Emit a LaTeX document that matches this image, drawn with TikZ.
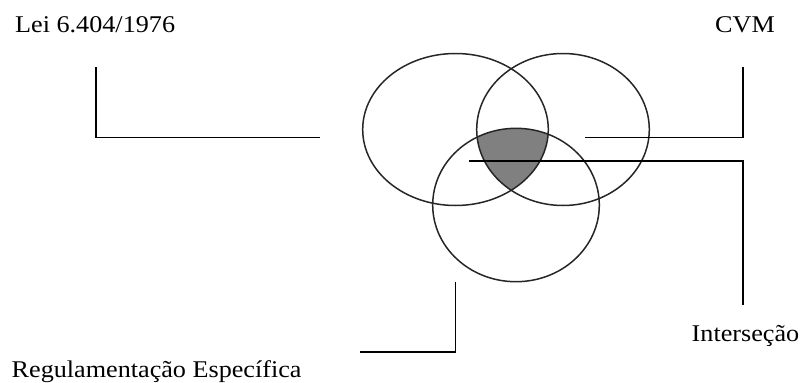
\documentclass[tikz,border=0pt]{standalone}
\usepackage{fontspec}
\setmainfont{Liberation Serif}
\begin{document}
\begin{tikzpicture}[x=1pt,y=-1pt,
  label/.style={anchor=base west,inner sep=0pt,font=\fontsize{24}{28}\selectfont,xscale=1.09},
  setline/.style={line width=1.5pt,draw=black!85},
  conn/.style={line width=1.5pt,draw=black}]
\useasboundingbox (0,0) rectangle (801,383);
% shaded intersection
\begin{scope}
  \clip (455.5,129.5) ellipse [x radius=92.8,y radius=76];
  \clip (563,129.5) ellipse [x radius=86.3,y radius=76];
  \fill[fill=black!50] (516,205) ellipse [x radius=83.3,y radius=76.7];
\end{scope}
% sets
\draw[setline] (455.5,129.5) ellipse [x radius=92.8,y radius=76];
\draw[setline] (563,129.5) ellipse [x radius=86.3,y radius=76];
\draw[setline] (516,205) ellipse [x radius=83.3,y radius=76.7];
% labels
\node[label] (lei) at (15,32.3) {Lei 6.404/1976};
\node[label] (cvm) at (715,32.3) {CVM};
\node[label] (inter) at (691.5,341) {Interseção};
\node[label] (reg) at (11.5,377.7) {Regulamentação Específica};
% connector points
\coordinate (leiA) at (96,67);
\coordinate (leiB) at (96,137.5);
\coordinate (leiC) at (320,137.5);
\coordinate (cvmA) at (743,67);
\coordinate (cvmB) at (743,137.5);
\coordinate (cvmC) at (585,137.5);
\coordinate (intA) at (469,161);
\coordinate (intB) at (743,161);
\coordinate (intC) at (743,305);
\coordinate (regA) at (455.7,281.7);
\coordinate (regB) at (455.7,352);
\coordinate (regC) at (360,352);
\draw[conn] (leiA) -- (leiB) -- (leiC);
\draw[conn] (cvmA) -- (cvmB) -- (cvmC);
\draw[conn] (intA) -- (intB) -- (intC);
\draw[conn] (regA) -- (regB) -- (regC);
\end{tikzpicture}
\end{document}
